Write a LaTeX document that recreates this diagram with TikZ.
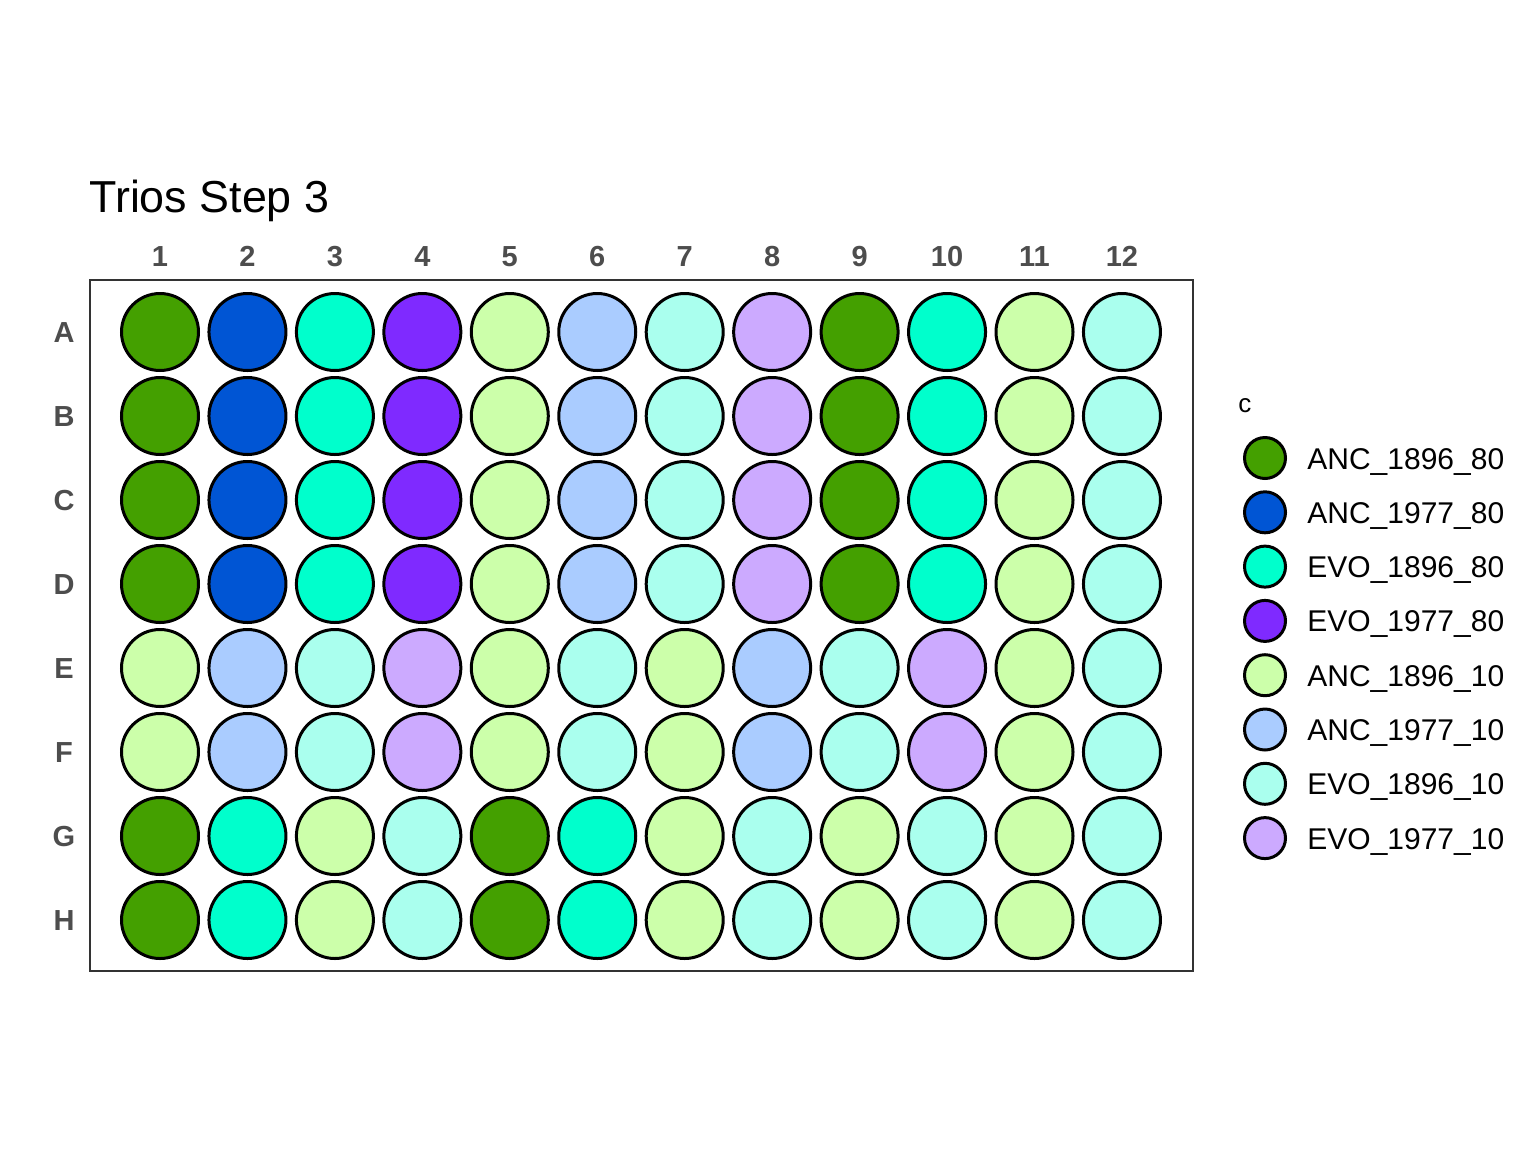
\documentclass[tikz,border=0pt]{standalone}
\usepackage{fontspec}
\setmainfont{Liberation Sans}
\usetikzlibrary{positioning}
\definecolor{anchiA}{HTML}{44A000}
\definecolor{anchiB}{HTML}{0055D4}
\definecolor{evohiA}{HTML}{00FFCC}
\definecolor{evohiB}{HTML}{7F2AFF}
\definecolor{ancloA}{HTML}{CCFFAA}
\definecolor{ancloB}{HTML}{AACCFF}
\definecolor{evoloA}{HTML}{AAFFEE}
\definecolor{evoloB}{HTML}{CCAAFF}
\definecolor{axlab}{HTML}{4D4D4D}
\begin{document}
\begin{tikzpicture}[x=0.5pt,y=-0.5pt,
  well/.style={draw,circle,line width=1.5pt,inner sep=0pt,minimum size=38.5pt},
  key/.style={draw,circle,line width=1.5pt,inner sep=0pt,minimum size=20.5pt},
  colhead/.style={font=\bfseries\fontsize{14.5}{16}\selectfont,text=axlab,text height=10.5pt,text depth=0pt,inner sep=0pt},
  keytext/.style={font=\fontsize{15}{17}\selectfont,anchor=base west,inner sep=0pt}]
  \useasboundingbox (0,0) rectangle (1536,1152);
  % plate outline and title
  \draw[line width=0.75pt,draw=black!80] (90,280) rectangle (1193,971);
  \node[anchor=base west,inner sep=0pt,font=\fontsize{22.4}{26}\selectfont] (title) at (89,212) {Trios Step 3};
  % column and row headers
  \foreach \i in {1,...,12}
    \node[colhead] (col\i) at ({160+87.45*(\i-1)},256) {\i};
  \foreach \row [count=\j] in {A,B,C,D,E,F,G,H}
    \node[colhead] (row\row) at (64,{332+84*(\j-1)}) {\row};
  % wells
  \foreach \row/\y in {A/332,B/416,C/500,D/584}
    \foreach \col [count=\i] in {anchiA,anchiB,evohiA,evohiB,ancloA,ancloB,evoloA,evoloB,anchiA,evohiA,ancloA,evoloA}
      \node[well,fill=\col] (w\row\i) at ({160+87.45*(\i-1)},\y) {};
  \foreach \row/\y in {E/668,F/752}
    \foreach \col [count=\i] in {ancloA,ancloB,evoloA,evoloB,ancloA,evoloA,ancloA,ancloB,evoloA,evoloB,ancloA,evoloA}
      \node[well,fill=\col] (w\row\i) at ({160+87.45*(\i-1)},\y) {};
  \foreach \row/\y in {G/836,H/920}
    \foreach \col [count=\i] in {anchiA,evohiA,ancloA,evoloA,anchiA,evohiA,ancloA,evoloA,ancloA,evoloA,ancloA,evoloA}
      \node[well,fill=\col] (w\row\i) at ({160+87.45*(\i-1)},\y) {};
  % legend
  \node[anchor=base west,inner sep=0pt,font=\fontsize{13}{15}\selectfont] (keytitle) at (1238,412) {c};
  \foreach \col/\lab [count=\k] in {anchiA/ANC\_1896\_80,anchiB/ANC\_1977\_80,evohiA/EVO\_1896\_80,evohiB/EVO\_1977\_80,ancloA/ANC\_1896\_10,ancloB/ANC\_1977\_10,evoloA/EVO\_1896\_10,evoloB/EVO\_1977\_10}
  {
    \node[key,fill=\col] (key\k) at (1265,{458+54.3*(\k-1)}) {};
    \node[keytext] (keylab\k) at (1307,{469+54.3*(\k-1)}) {\lab};
  }
\end{tikzpicture}
\end{document}
